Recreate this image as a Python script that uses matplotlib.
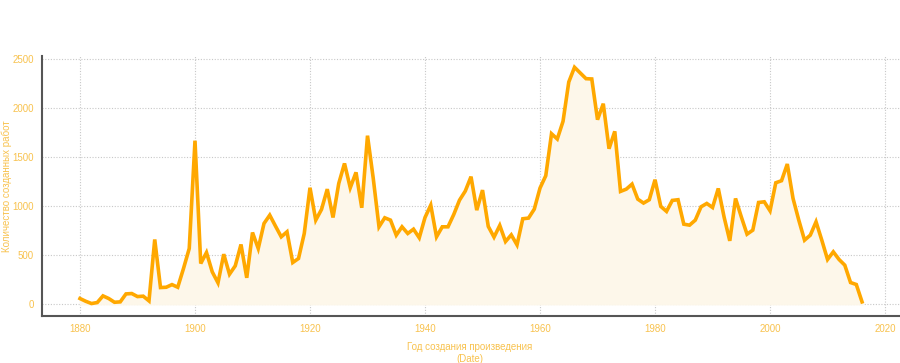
import matplotlib
matplotlib.use("Agg")
import matplotlib.pyplot as plt
import numpy as np

years = list(range(1880, 2017))
counts = [
    58, 30, 7, 17, 85, 58, 20, 24, 105, 109,          # 1880-1889
    78, 82, 34, 660, 170, 173, 200, 173, 364, 568,    # 1890-1899
    1667, 415, 527, 330, 218, 510, 306, 391, 609, 269,  # 1900-1909
    731, 568, 823, 908, 796, 687, 738, 425, 466, 721,  # 1910-1919
    1187, 857, 966, 1173, 884, 1231, 1435, 1187, 1344, 983,  # 1920-1929
    1718, 1282, 789, 881, 857, 704, 789, 721, 765, 677,  # 1930-1939
    884, 1010, 687, 789, 789, 915, 1061, 1153, 1300, 959,  # 1940-1949
    1163, 793, 684, 803, 639, 707, 605, 871, 878, 969,  # 1950-1959
    1184, 1310, 1738, 1684, 1864, 2265, 2415, 2357, 2299, 2296,  # 1960-1969
    1881, 2044, 1585, 1762, 1150, 1173, 1224, 1071, 1031, 1065,  # 1970-1979
    1269, 997, 946, 1058, 1065, 816, 806, 857, 993, 1027,  # 1980-1989
    986, 1180, 891, 646, 1078, 891, 714, 755, 1037, 1044,  # 1990-1999
    952, 1238, 1259, 1429, 1078, 857, 653, 704, 840, 653,  # 2000-2009
    456, 534, 456, 398, 221, 201, 24,                 # 2010-2016
]
x_ticks = [1880, 1900, 1920, 1940, 1960, 1980, 2000, 2020]
y_ticks = [0, 500, 1000, 1500, 2000, 2500]

plt.rcParams['font.family'] = ['Liberation Sans', 'DejaVu Sans']

fig = plt.figure(figsize=(9, 3.63), dpi=100)
ax = fig.add_axes([0.0467, 0.1295, 0.9533, 0.7162])

line_color = '#ffa800'
text_color = '#f8c24e'

ax.fill_between(years, counts, 0, color='#fdf7ea', zorder=1)
ax.plot(years, counts, color=line_color, lw=2.6, zorder=3, solid_joinstyle='miter')

ax.set_xlim(1873.4, 2022.6)
ax.set_ylim(-120, 2530)
ax.set_xticks(x_ticks)
ax.set_yticks(y_ticks)
ax.grid(True, color='#c8c8c8', linestyle=(0, (1, 1.5)), lw=0.8, zorder=0)
ax.set_axisbelow(True)

ax.tick_params(axis='both', length=0, labelsize=7, colors=text_color)
ax.tick_params(axis='x', pad=6)
ax.tick_params(axis='y', pad=6)
for s in ['top', 'right']:
    ax.spines[s].set_visible(False)
for s in ['left', 'bottom']:
    ax.spines[s].set_color('#555555')
    ax.spines[s].set_linewidth(1.5)

fig.text(7 / 900, 1 - 186 / 363, 'Количество созданных работ', color=text_color, fontsize=7,
         rotation=90, ha='center', va='center')
fig.text(470 / 900, 1 - 353 / 363, 'Год создания произведения\n(Date)', color=text_color,
         fontsize=7, ha='center', va='center', linespacing=1.25)

fig.savefig('out.png', dpi=100)
